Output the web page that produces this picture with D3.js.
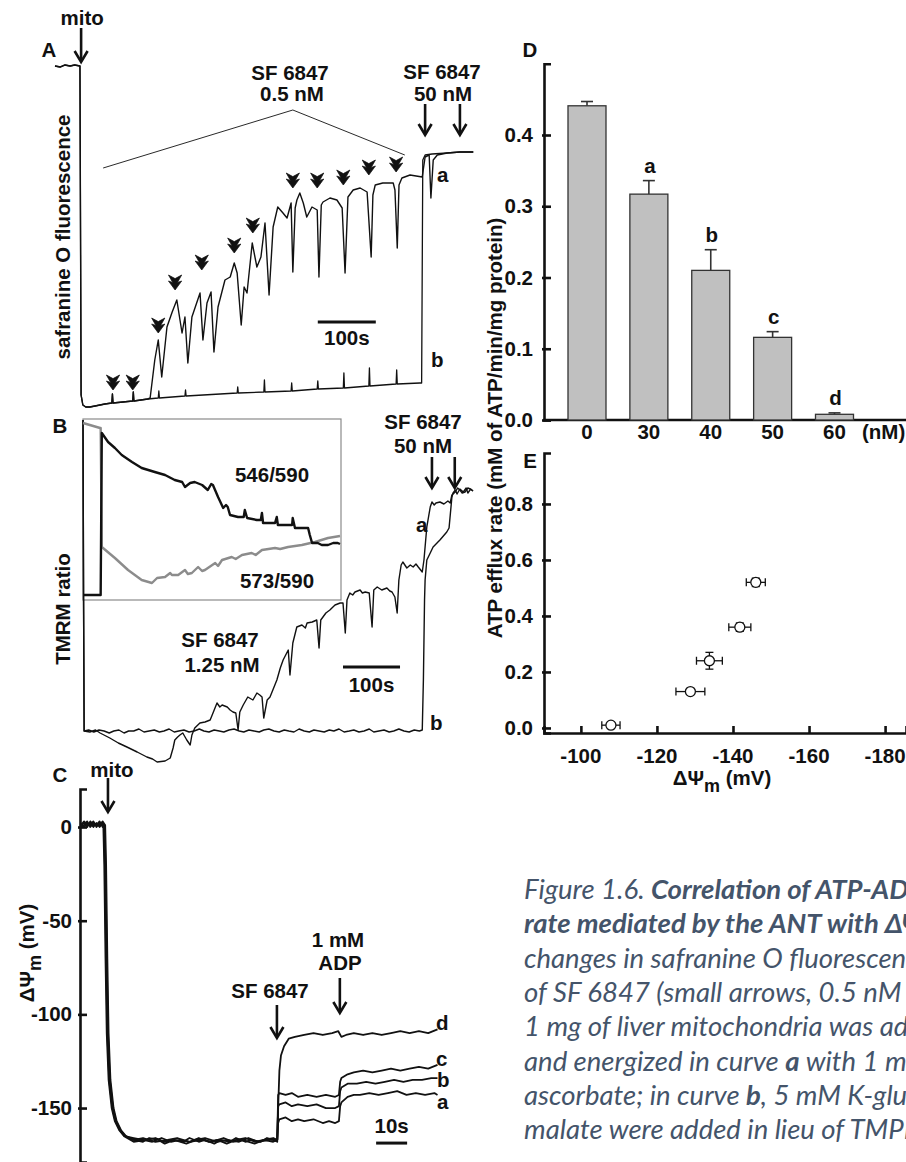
<!DOCTYPE html>
<html><head><meta charset="utf-8">
<script src="https://cdn.jsdelivr.net/npm/d3@7"></script>
<style>
body{margin:0;background:#fff;}
svg text{font-family:"Liberation Sans",Arial,sans-serif;font-weight:bold;fill:#111;}
svg text.cap{font-family:Lato,"Open Sans",sans-serif;font-weight:normal;font-style:italic;fill:#44546a;}
</style></head>
<body><svg id="c" width="906" height="1162"></svg>
<script>
// ================= DATA =================
// Panel A : safranine O fluorescence (time s, a.u.)
const traceAa=[[0,354],[9,353],[17,355],[26,354],[34,355],[43,354],[45,25],[48,15],[53,13],[60,13],[69,14],[86,16],[98,17],[99,26],[100,17],[134,19],[135,28],[136,19],[160,21],[164,22],[172,60],[178,80],[184,43],[193,93],[202,108],[210,120],[219,87],[224,103],[229,57],[236,103],[250,127],[255,80],[262,117],[269,128],[274,68],[281,113],[293,140],[302,143],[309,157],[314,147],[321,95],[326,133],[331,127],[340,177],[348,153],[355,163],[362,197],[369,125],[376,193],[384,213],[393,207],[400,202],[407,217],[410,148],[414,212],[417,220],[422,227],[428,217],[434,203],[443,213],[452,210],[455,143],[459,215],[462,218],[474,222],[486,220],[495,212],[500,147],[505,223],[514,230],[526,232],[538,228],[545,163],[548,225],[552,235],[565,237],[583,237],[586,230],[590,172],[593,235],[598,242],[612,245],[633,243],[638,263],[645,265],[648,222],[652,260],[659,265],[676,267],[698,268],[721,268]];
const traceAb=[[0,354],[9,353],[17,355],[26,354],[34,355],[43,354],[45,25],[48,15],[53,13],[60,13],[69,14],[86,16],[98,17],[99,26],[100,17],[134,19],[135,28],[136,19],[160,21],[178,22],[179,29],[180,22],[224,24],[225,30],[226,24],[314,27],[315,33],[316,27],[360,28],[361,40],[362,28],[407,29],[408,37],[409,29],[452,31],[453,39],[454,31],[497,32],[498,47],[499,32],[541,34],[542,52],[543,34],[588,36],[589,50],[590,36],[629,37],[632,37],[634,260],[638,265],[650,266],[676,267],[698,268],[721,268]];
const smallArrowsA=[[100,30],[134,30],[178,87],[207,130],[253,150],[309,167],[341,187],[410,232],[452,232],[497,235],[541,245],[588,248]];
const bracketA=[[83,252],[410,310],[603,265]];

// Panel B : TMRM ratio (time s, a.u.)
const traceBb=[[0,320],[1,140],[2,9],[10,10],[19,8],[28,10],[37,9],[46,7],[54,9],[63,10],[72,7],[80,9],[89,9],[98,11],[107,8],[116,9],[125,10],[134,8],[142,9],[151,11],[160,8],[168,9],[177,10],[186,8],[195,9],[204,11],[212,9],[221,8],[230,10],[239,9],[247,8],[256,10],[265,11],[274,9],[282,8],[291,10],[300,9],[309,8],[317,10],[326,11],[335,9],[344,8],[353,10],[361,9],[370,8],[379,11],[388,9],[397,8],[405,10],[414,9],[423,8],[432,10],[440,9],[449,11],[458,8],[467,9],[475,10],[484,8],[493,9],[502,11],[510,8],[519,9],[528,10],[537,8],[545,9],[554,11],[563,9],[572,8],[581,10],[590,9],[595,10],[597,60],[599,140],[600,160],[603,180],[609,187],[614,193],[626,200],[638,208],[642,212],[647,243],[649,247],[653,250],[656,246],[661,251],[667,248],[672,252],[675,247],[680,251],[684,249]];
const traceBa=[[0,320],[1,140],[2,9],[12,8],[22,10],[30,7],[47,2],[62,-3],[77,-7],[95,-12],[112,-17],[122,-19],[130,-22],[144,-21],[153,-18],[158,-8],[161,0],[166,3],[170,5],[175,7],[182,0],[188,-5],[191,5],[196,12],[205,17],[214,18],[223,20],[228,27],[235,37],[240,33],[244,35],[253,33],[258,30],[263,28],[268,27],[272,10],[275,28],[281,35],[289,43],[298,40],[305,47],[310,45],[314,43],[317,22],[323,40],[328,43],[340,60],[346,72],[351,80],[360,90],[363,65],[368,97],[375,113],[384,115],[390,112],[393,117],[402,118],[410,120],[414,92],[417,120],[426,127],[433,130],[442,135],[451,137],[456,137],[460,107],[463,140],[468,147],[473,145],[477,148],[486,150],[490,147],[495,148],[502,147],[507,113],[510,150],[516,153],[524,150],[533,152],[538,149],[542,148],[547,143],[551,127],[554,160],[558,175],[561,178],[568,172],[574,175],[579,173],[584,176],[588,173],[595,168],[598,180],[603,213],[609,233],[612,238],[616,235],[619,237],[626,238],[633,236],[640,239],[644,237],[647,245],[653,248],[657,252],[661,250],[665,247],[670,248],[675,252],[679,251],[684,249]];
// Inset of B (time s, ratio a.u.)
const inset546=[[0,5],[30,5],[31,5],[33,167],[44,158],[56,152],[68,145],[86,138],[103,132],[126,128],[144,125],[161,120],[174,118],[179,113],[188,117],[196,118],[209,115],[219,110],[225,116],[228,115],[237,103],[246,92],[251,95],[254,93],[258,85],[272,83],[282,83],[284,90],[288,82],[305,80],[312,80],[314,87],[316,77],[337,77],[340,83],[342,75],[367,75],[368,82],[372,72],[395,72],[398,65],[402,57],[412,57],[419,55],[430,55],[439,57],[447,57],[451,56]];
const inset573=[[0,177],[30,172],[31,172],[33,53],[56,42],[79,30],[103,20],[121,17],[130,22],[144,23],[153,27],[156,25],[167,25],[179,30],[184,26],[191,27],[202,33],[209,29],[214,30],[232,37],[237,34],[244,40],[261,43],[268,41],[279,45],[296,47],[303,45],[314,50],[337,52],[346,51],[360,53],[384,55],[407,58],[430,62],[451,64]];

// Panel C : membrane potential (time s, mV)
const tracesC={
 a:[[0,1],[1,2],[2,0],[3,3],[4,1],[5,2],[6,0],[7,2],[7.6,1],[7.9,-20],[8.3,-70],[8.7,-110],[9.3,-135],[10.3,-150],[11.3,-157],[12.8,-162],[14.3,-165],[17,-167],[20,-168],[22,-166],[25,-167],[27,-169],[30,-167],[33,-168],[35,-166],[38,-168],[40,-167],[43,-169],[45,-167],[48,-168],[50,-166],[53,-168],[55,-167],[58,-168],[60,-166],[62,-167],[63.3,-168],[63.6,-158],[64,-156],[66,-155],[68,-157],[70,-156],[72,-157],[75,-156],[78,-158],[80,-157],[82,-158],[83.2,-157],[83.6,-149],[84,-147],[86,-144],[88,-143],[90,-143],[93,-142],[96,-143],[99,-142],[102,-141],[105,-143],[108,-142],[111,-143],[114,-142],[115,-143]],
 b:[[0,2],[1,0],[2,2],[3,1],[4,3],[5,0],[6,2],[7,1],[7.4,1],[7.7,-20],[8.1,-70],[8.5,-110],[9.1,-135],[10.1,-150],[11.1,-157],[12.6,-162],[14.1,-165],[17,-166],[20,-167],[23,-168],[26,-166],[29,-168],[32,-167],[35,-168],[38,-166],[41,-168],[44,-167],[47,-169],[50,-167],[53,-166],[56,-168],[59,-167],[62,-168],[63.3,-167],[63.6,-149],[64,-148],[66,-147],[68,-149],[70,-148],[73,-149],[76,-148],[79,-150],[82,-150],[83.2,-149],[83.6,-141],[84,-139],[86,-137],[89,-137],[92,-136],[95,-137],[98,-136],[101,-135],[104,-136],[107,-135],[110,-135],[113,-134],[115,-134]],
 c:[[0,0],[1,1],[2,3],[3,0],[4,2],[5,1],[6,3],[7,0],[7.2,1],[7.5,-20],[7.9,-70],[8.3,-110],[8.9,-135],[9.9,-150],[10.9,-157],[12.4,-162],[13.9,-165],[17,-168],[21,-167],[24,-166],[27,-168],[30,-167],[34,-169],[37,-167],[40,-166],[44,-168],[47,-167],[51,-168],[54,-166],[57,-168],[61,-167],[63.3,-167],[63.6,-143],[64,-142],[66,-143],[68,-142],[70,-144],[73,-143],[76,-144],[79,-143],[82,-144],[83.2,-143],[83.6,-136],[84,-134],[86,-132],[88,-131],[91,-130],[94,-131],[97,-130],[100,-129],[103,-130],[106,-129],[109,-128],[112,-129],[115,-127]],
 d:[[0,1],[1,3],[2,1],[3,2],[4,0],[5,2],[6,1],[7,3],[7.8,1],[8.1,-20],[8.5,-70],[8.9,-110],[9.5,-135],[10.5,-150],[11.5,-157],[13,-162],[14.5,-165],[17,-167],[20,-166],[24,-168],[28,-167],[31,-166],[35,-168],[39,-167],[42,-168],[46,-166],[49,-168],[52,-167],[56,-169],[59,-167],[62,-166],[63.3,-167],[63.6,-150],[64,-130],[64.5,-122],[65.5,-117],[67,-113],[69,-112],[72,-111],[75,-110],[78,-111],[81,-110],[83,-109],[84,-112],[85.5,-111],[88,-110],[91,-111],[94,-110],[97,-111],[100,-110],[103,-109],[106,-110],[109,-109],[112,-110],[115,-108]]
};
const cTicks=[0,-50,-100,-150];

// Panel D : ATP efflux bars
const concLabels=["0","30","40","50","60"];
const effluxMean=[0.441,0.317,0.210,0.116,0.008];
const effluxErr=[0.006,0.019,0.029,0.008,0.002];
const sigLetters=["","a","b","c","d"];
const dTicks=[0,0.1,0.2,0.3,0.4];

// Panel E : efflux vs membrane potential
const psiMean=[-107.9,-128.8,-133.8,-141.8,-146.0];
const psiErr=[2.4,3.8,3.4,2.9,2.5];
const rateMean=[0.01,0.13,0.24,0.36,0.52];
const rateErr=[0,0,0.03,0.015,0.015];
const eYTicks=[0,0.2,0.4,0.6,0.8];
const eXTicks=[-100,-120,-140,-160,-180];

// Caption (text runs past the right edge, as in the source)
const captionLines=[
 [["Figure 1.6. ",false],["Correlation of ATP-ADP exchange",true]],
 [["rate mediated by the ANT with ΔΨm.",true],[" A,",false]],
 [["changes in safranine O fluorescence upon additions",false]],
 [["of SF 6847 (small arrows, 0.5 nM each).",false]],
 [["1 mg of liver mitochondria was added to the medium",false]],
 [["and energized in curve ",false],["a",true],[" with 1 mM TMPD and 2 mM",false]],
 [["ascorbate; in curve ",false],["b",true],[", 5 mM K-glutamate and 5 mM",false]],
 [["malate were added in lieu of TMPD and ascorbate.",false]]
];

// ================= DRAW =================
const FS=20.5;
const svg=d3.select("#c");
const ink="#111";
function trace(data,xs,ys,w,col){
  svg.append("path").datum(data)
   .attr("d",d3.line().x(d=>xs(d[0])).y(d=>ys(d[1])))
   .attr("fill","none").attr("stroke",col||ink).attr("stroke-width",w)
   .attr("stroke-linejoin","round");
}
function txt(x,y,s,size,anchor){
  return svg.append("text").attr("x",x).attr("y",y).attr("font-size",size||FS)
   .attr("text-anchor",anchor||"middle").text(s);
}
function bigArrow(x,y1,y2){
  svg.append("line").attr("x1",x).attr("x2",x).attr("y1",y1).attr("y2",y2-1)
   .attr("stroke",ink).attr("stroke-width",2.6);
  svg.append("path").attr("d",`M${x-6.5},${y2-11}L${x},${y2}L${x+6.5},${y2-11}`)
   .attr("fill","none").attr("stroke",ink).attr("stroke-width",2.6);
}
function smallArrow(x,y){
  svg.append("path").attr("transform",`translate(${x},${y}) scale(1.2)`)
   .attr("d","M0,0L-5.5,-7.5L-2,-6.3L-5.5,-12.5L0,-9.5L5.5,-12.5L2,-6.3L5.5,-7.5Z")
   .attr("fill",ink).attr("stroke",ink).attr("stroke-width",0.6).attr("stroke-linejoin","round");
}
function vText(x,y,s,size){
  return svg.append("text").attr("transform",`translate(${x},${y}) rotate(-90)`)
   .attr("font-size",size||FS).attr("text-anchor","middle").text(s);
}

// ---------- Panel A ----------
const xA=d3.scaleLinear().domain([0,724]).range([55,475]);
const yA=d3.scaleLinear().domain([0,360]).range([420,60]);
svg.append("path").datum(bracketA).attr("d",d3.line().x(d=>xA(d[0])).y(d=>yA(d[1])))
  .attr("fill","none").attr("stroke",ink).attr("stroke-width",0.9);
trace(traceAb,xA,yA,1.3);
trace(traceAa,xA,yA,1.4);
smallArrowsA.forEach(d=>smallArrow(xA(d[0]),yA(d[1])));
bigArrow(xA(45),28,62);
bigArrow(xA(638),104,135);
bigArrow(xA(698),104,135);
txt(xA(45)+1,25,"mito");
txt(49,57,"A");
txt(290,80,"SF 6847");
txt(292,101,"0.5 nM");
txt(442,79,"SF 6847");
txt(443,101,"50 nM");
txt(437,182,"a",FS,"start");
txt(431,367,"b",FS,"start");
svg.append("line").attr("x1",xA(453)).attr("x2",xA(553)).attr("y1",yA(98)).attr("y2",yA(98))
  .attr("stroke",ink).attr("stroke-width",3);
txt((xA(453)+xA(553))/2,345,"100s");
vText(70,237,"safranine O fluorescence");

// ---------- Panel B ----------
const xB=d3.scaleLinear().domain([0,684]).range([83,473]);
const yB=d3.scaleLinear().domain([0,340]).range([740,400]);
const xI=d3.scaleLinear().domain([0,451]).range([83,340]);
const yI=d3.scaleLinear().domain([0,180]).range([600,420]);
svg.append("rect").attr("x",83).attr("y",419).attr("width",258).attr("height",181)
  .attr("fill","#fff").attr("stroke","#8a8a8a").attr("stroke-width",1.2);
trace(traceBb,xB,yB,1.4);
trace(traceBa,xB,yB,1.4);
trace(inset573,xI,yI,2.4,"#8c8c8c");
trace(inset546,xI,yI,2.4,ink);
bigArrow(xB(612),457,488);
bigArrow(xB(652),457,488);
txt(60,433,"B");
txt(423,429,"SF 6847");
txt(423,453,"50 nM");
txt(272,482,"546/590");
txt(277,588,"573/590");
txt(220,647,"SF 6847");
txt(222,672,"1.25 nM");
txt(416,532,"a",FS,"start");
txt(430,730,"b",FS,"start");
svg.append("line").attr("x1",xB(456)).attr("x2",xB(556)).attr("y1",yB(73)).attr("y2",yB(73))
  .attr("stroke",ink).attr("stroke-width",3);
txt((xB(456)+xB(556))/2,692,"100s");
vText(70,609,"TMRM ratio");

// ---------- Panel C ----------
const xC=d3.scaleLinear().domain([0,115]).range([81,437.5]);
const yC=d3.scaleLinear().domain([-178.8,20.3]).range([1162,789]);
const gCax=svg.append("g").attr("transform","translate(80,0)")
  .call(d3.axisRight(yC).tickValues(cTicks).tickSize(7).tickFormat(""));
gCax.select(".domain").attr("stroke",ink).attr("stroke-width",2.6);
gCax.selectAll(".tick line").attr("stroke",ink).attr("stroke-width",2.6).attr("x1",-2);
cTicks.forEach(v=>txt(72,yC(v)+7,String(v),FS,"end"));
["a","b","c","d"].forEach(k=>trace(tracesC[k],xC,yC,1.8));
bigArrow(xC(8.7),778,812);
bigArrow(xC(63.2),1005,1038);
bigArrow(xC(83.5),978,1013);
txt(60,782,"C");
txt(112,777,"mito");
txt(270,998,"SF 6847");
txt(338,947,"1 mM");
txt(340,970,"ADP");
txt(436,1030,"d",FS,"start");
txt(436,1066,"c",FS,"start");
txt(437,1087,"b",FS,"start");
txt(437,1109,"a",FS,"start");
svg.append("line").attr("x1",xC(95.2)).attr("x2",xC(105.2)).attr("y1",yC(-168.7)).attr("y2",yC(-168.7))
  .attr("stroke",ink).attr("stroke-width",3);
txt((xC(95.2)+xC(105.2))/2,1133,"10s");
const cl=svg.append("text").attr("transform","translate(34,953) rotate(-90)")
  .attr("font-size",FS).attr("text-anchor","middle");
cl.append("tspan").text("ΔΨ");
cl.append("tspan").attr("dy",7).attr("font-size",18).text("m");
cl.append("tspan").attr("dy",-7).text(" (mV)");

// ---------- Panel D ----------
const xD=d3.scalePoint().domain(concLabels).range([587,834.5]);
const yD=d3.scaleLinear().domain([0,0.5]).range([420,63.75]);
const bw=38;
const gDy=svg.append("g").attr("transform","translate(544,0)")
  .call(d3.axisRight(yD).tickValues(dTicks).tickSize(7).tickFormat(""));
gDy.select(".domain").attr("stroke",ink).attr("stroke-width",2.6);
gDy.selectAll(".tick line").attr("stroke",ink).attr("stroke-width",2.6).attr("x1",-2);
dTicks.forEach(v=>txt(533,yD(v)+7,d3.format(".1f")(v),FS,"end"));
svg.append("line").attr("x1",543).attr("x2",906).attr("y1",yD(0)).attr("y2",yD(0))
  .attr("stroke",ink).attr("stroke-width",2.6);
concLabels.forEach((c,i)=>{
  const cx=xD(c);
  svg.append("line").attr("x1",cx).attr("x2",cx).attr("y1",yD(effluxMean[i])).attr("y2",yD(effluxMean[i]+effluxErr[i]))
    .attr("stroke","#333").attr("stroke-width",1.6);
  svg.append("line").attr("x1",cx-6).attr("x2",cx+6).attr("y1",yD(effluxMean[i]+effluxErr[i])).attr("y2",yD(effluxMean[i]+effluxErr[i]))
    .attr("stroke","#333").attr("stroke-width",1.6);
  svg.append("rect").attr("x",cx-bw/2).attr("y",yD(effluxMean[i])).attr("width",bw)
    .attr("height",yD(0)-yD(effluxMean[i])).attr("fill","#c0c0c0").attr("stroke","#333").attr("stroke-width",1.3);
  txt(cx,439,c);
  if(sigLetters[i]) txt(cx+1,yD(effluxMean[i]+effluxErr[i])-8,sigLetters[i]);
});
txt(862,439,"(nM)",FS,"start");
txt(530,57,"D");

// ---------- Panel E ----------
const xE=d3.scaleLinear().domain([-90.3,-185.5]).range([544,906]);
const yE=d3.scaleLinear().domain([-0.018,0.982]).range([733,453]);
const gEy=svg.append("g").attr("transform","translate(544,0)")
  .call(d3.axisRight(yE).tickValues(eYTicks).tickSize(7).tickFormat(""));
gEy.select(".domain").attr("stroke",ink).attr("stroke-width",2.6);
gEy.selectAll(".tick line").attr("stroke",ink).attr("stroke-width",2.6).attr("x1",-2);
eYTicks.forEach(v=>txt(533,yE(v)+7,d3.format(".1f")(v),FS,"end"));
const gEx=svg.append("g").attr("transform","translate(0,733)")
  .call(d3.axisTop(xE).tickValues(eXTicks).tickSize(7).tickFormat(""));
gEx.select(".domain").attr("stroke",ink).attr("stroke-width",2.6);
gEx.selectAll(".tick line").attr("stroke",ink).attr("stroke-width",2.6);
eXTicks.forEach(v=>txt(xE(v),763,String(v)));
psiMean.forEach((p,i)=>{
  const cx=xE(p), cy=yE(rateMean[i]);
  const x0=xE(p+psiErr[i]), x1=xE(p-psiErr[i]);
  svg.append("line").attr("x1",x0).attr("x2",x1).attr("y1",cy).attr("y2",cy).attr("stroke",ink).attr("stroke-width",1.3);
  [x0,x1].forEach(xx=>svg.append("line").attr("x1",xx).attr("x2",xx).attr("y1",cy-4).attr("y2",cy+4).attr("stroke",ink).attr("stroke-width",1.3));
  if(rateErr[i]>0){
    const y0=yE(rateMean[i]+rateErr[i]), y1=yE(rateMean[i]-rateErr[i]);
    svg.append("line").attr("x1",cx).attr("x2",cx).attr("y1",y0).attr("y2",y1).attr("stroke",ink).attr("stroke-width",1.3);
    [y0,y1].forEach(yy=>svg.append("line").attr("x1",cx-4).attr("x2",cx+4).attr("y1",yy).attr("y2",yy).attr("stroke",ink).attr("stroke-width",1.3));
  }
  svg.append("circle").attr("cx",cx).attr("cy",cy).attr("r",5).attr("fill","#fff").attr("stroke",ink).attr("stroke-width",1.3);
});
txt(530,468,"E");
const el=svg.append("text").attr("x",722).attr("y",785).attr("font-size",FS).attr("text-anchor","middle");
el.append("tspan").text("ΔΨ");
el.append("tspan").attr("dy",7).attr("font-size",18).text("m");
el.append("tspan").attr("dy",-7).text(" (mV)");
vText(502,428,"ATP efflux rate (mM of ATP/min/mg protein)",FS);

// ---------- Caption ----------
const capY=[899,933,968,1002,1036,1071,1105,1139];
captionLines.forEach((parts,i)=>{
  const t=svg.append("text").attr("class","cap").attr("x",524).attr("y",capY[i]).attr("font-size",27.5);
  parts.forEach(p=>t.append("tspan").attr("font-weight",p[1]?"bold":"normal").text(p[0]));
});
</script></body></html>
